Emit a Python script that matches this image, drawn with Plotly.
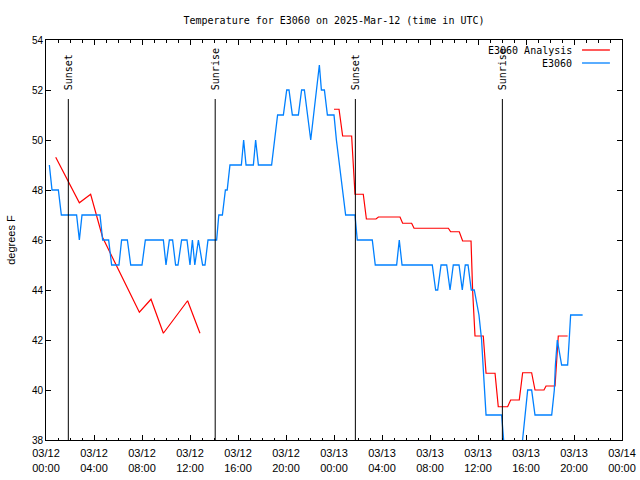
import pandas as pd
import plotly.graph_objects as go

BASE = pd.Timestamp("2025-03-12 00:00")

# Observed temperature E3060 (hours since 03/12 00:00 UTC, deg F)
obs_hours = [0.28, 0.5, 1.03, 1.28, 2.55, 2.78, 3.0, 4.5, 4.72, 5.22, 5.47, 6.08, 6.3, 6.78, 7.06,
             8.0, 8.28, 9.78, 10.0, 10.28, 10.55, 10.8, 11.0, 11.3, 11.75, 12.0, 12.2, 12.4, 12.7,
             13.05, 13.25, 13.5, 14.22, 14.4, 14.7, 14.95, 15.1, 15.33, 16.28, 16.47, 16.67, 17.28,
             17.47, 17.7, 18.8, 19.05, 19.3, 19.78, 20.06, 20.25, 20.53, 21.03, 21.3, 21.53, 21.78,
             22.06, 22.3, 22.55, 22.78, 22.95, 23.2, 23.45, 24.0, 24.2, 24.45, 24.7, 24.97, 25.75,
             25.94, 27.19, 27.44, 29.22, 29.44, 29.67, 32.19, 32.47, 32.64, 32.92, 33.39, 33.67,
             33.94, 34.42, 34.69, 34.94, 35.17, 35.44, 35.69, 36.08, 36.3, 36.42, 36.55, 36.67,
             37.97, 38.1, 38.3, 39.5, 39.72, 39.9, 40.14, 40.47, 40.75, 42.14, 42.36, 42.45, 42.61,
             42.97, 43.47, 43.6, 43.72, 44.72]
obs_temp = [49, 48, 48, 47, 47, 46, 47, 47, 46, 46, 45, 45, 46, 46, 45,
            45, 46, 46, 45, 46, 46, 45, 45, 46, 46, 45, 46, 45, 46,
            45, 45, 46, 46, 47, 47, 48, 48, 49, 49, 50, 49, 49,
            50, 49, 49, 50, 51, 51, 52, 52, 51, 51, 52, 52, 51,
            50, 51, 52, 53, 52, 52, 51, 51, 50, 49, 48, 47, 47,
            46, 46, 45, 45, 46, 45, 45, 44, 44, 45, 45, 44,
            45, 45, 44, 45, 45, 44, 44, 43, 42, 41, 40, 39,
            39, 38, 37, 37, 38, 39, 40, 40, 39, 39, 40, 41, 42,
            41, 41, 42, 43, 43]

# Analysis (None = gap)
ana_hours = [0.81, 2.78, 3.72, 4.72, 7.78, 8.75, 9.78, 11.8, 12.83, 18.0,
             24.0, 24.42, 24.72, 25.47, 25.75, 26.44, 26.7, 27.5, 27.7, 29.5, 29.72, 30.47,
             30.67, 33.53, 33.72, 34.44, 34.72, 35.42, 35.55, 35.75, 36.44, 36.67, 37.42,
             37.69, 38.47, 38.72, 39.44, 39.72, 40.47, 40.75, 41.5, 41.67, 42.42, 42.69, 43.47]
ana_temp = [49.31, 47.49, 47.83, 46.1, 43.11, 43.63, 42.27, 43.57, 42.27, None,
            51.23, 51.23, 50.16, 50.16, 47.83, 47.83, 46.84, 46.84, 46.92, 46.92, 46.67, 46.67,
            46.47, 46.47, 46.33, 46.33, 45.96, 45.96, 44.0, 42.16, 42.16, 40.67, 40.67,
            39.33, 39.33, 39.6, 39.6, 40.69, 40.69, 40.0, 40.0, 40.16, 40.16, 42.16, 42.16]

event_names = ["Sunset", "Sunrise", "Sunset", "Sunrise"]
event_hours = [1.86, 14.1, 25.78, 38.03]

tick_hours = list(range(0, 49, 4))

def to_time(hours):
    return [BASE + pd.Timedelta(hours=h) for h in hours]

RED = "#ff0000"
BLUE = "#0080ff"
MONO = "DejaVu Sans Mono"
SANS = "Liberation Sans"

W, H = 640, 480

fig = go.Figure()
fig.add_trace(go.Scatter(x=to_time(ana_hours), y=ana_temp, mode="lines",
                         line=dict(color=RED, width=1.2), name="E3060 Analysis",
                         connectgaps=False, showlegend=False))
fig.add_trace(go.Scatter(x=to_time(obs_hours), y=obs_temp, mode="lines",
                         line=dict(color=BLUE, width=1.3), name="E3060", showlegend=False))

shapes = []
annotations = []
for name, h in zip(event_names, event_hours):
    t = BASE + pd.Timedelta(hours=h)
    shapes.append(dict(type="line", xref="x", yref="paper", x0=t, x1=t, y0=0, y1=0.8525,
                       line=dict(color="black", width=1)))
    annotations.append(dict(x=t, y=0.87, xref="x", yref="paper", text=name, textangle=-90,
                            showarrow=False, xanchor="center", yanchor="bottom",
                            font=dict(family=MONO, size=10, color="black")))

# custom legend (text on left, sample on right)
for label, color, yy in [("E3060 Analysis", RED, 0.975), ("E3060", BLUE, 0.9425)]:
    annotations.append(dict(x=0.9167, y=yy, xref="paper", yref="paper", text=label,
                            showarrow=False, xanchor="right", yanchor="middle",
                            font=dict(family=MONO, size=10, color="black")))
    shapes.append(dict(type="line", xref="paper", yref="paper", x0=0.9306, x1=0.979,
                       y0=yy, y1=yy, line=dict(color=color, width=1.3)))

tickvals = to_time(tick_hours)
ticktext = [t.strftime("%m/%d") + "<br>" + t.strftime("%H:%M") for t in tickvals]

fig.update_layout(
    width=W, height=H,
    margin=dict(l=46, r=18, t=40, b=40),
    paper_bgcolor="white", plot_bgcolor="white",
    title=dict(text="Temperature for E3060 on 2025-Mar-12 (time in UTC)",
               x=0.5, xref="paper", xanchor="center", y=1 - 20 / H, yanchor="middle",
               font=dict(family=MONO, size=10, color="black")),
    shapes=shapes, annotations=annotations, showlegend=False,
    xaxis=dict(type="date", range=[tickvals[0], tickvals[-1]], tickvals=tickvals,
               ticktext=ticktext, ticks="inside", ticklen=5, tickcolor="black",
               showline=True, linecolor="black", linewidth=1, mirror="ticks",
               showgrid=False, zeroline=False, ticklabelstandoff=3, automargin=False,
               tickfont=dict(family=SANS, size=11, color="black"),
               minor=dict(ticks="inside", ticklen=2.5, tickcolor="black",
                          tick0=tickvals[0], dtick=3600000, showgrid=False)),
    yaxis=dict(range=[38, 54], dtick=2, ticks="inside", ticklen=5, tickcolor="black",
               showline=True, linecolor="black", linewidth=1, mirror="ticks",
               showgrid=False, zeroline=False, automargin=False,
               tickfont=dict(family=SANS, size=10, color="black"),
               title=dict(text="degrees F", font=dict(family=SANS, size=11, color="black"),
                          standoff=14)),
)

fig.write_html(
    "out.html",
    config={"displayModeBar": False},
    post_script="document.body.style.margin='0';document.documentElement.style.overflow='hidden';",
)
